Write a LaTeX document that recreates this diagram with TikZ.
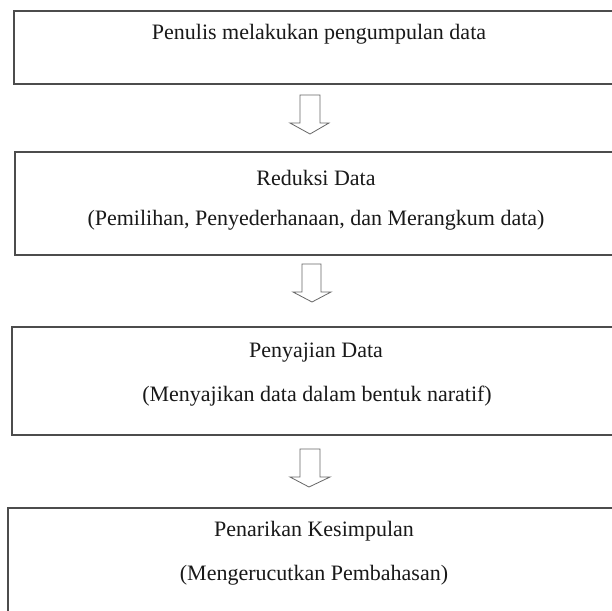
\documentclass[tikz,border=0pt]{standalone}
\usepackage{fontspec}
\setmainfont{Liberation Serif}
\begin{document}
\begin{tikzpicture}[x=1pt,y=-1pt,
  box/.style={draw=black!70,line width=1.6pt},
  arr/.style={draw=black!60,line width=0.8pt,fill=white,line join=miter},
  txt/.style={font=\fontsize{22}{26}\selectfont,inner sep=0pt,text=black!90}]
\useasboundingbox (0,0) rectangle (612,610);
\fill[white] (0,0) rectangle (612,610);
% boxes
\draw[box] (620,11) -- (14,11) -- (14,84) -- (620,84);
\draw[box] (620,152) -- (15,152) -- (15,255) -- (620,255);
\draw[box] (620,327) -- (12,327) -- (12,435) -- (620,435);
\draw[box] (620,508) -- (8,508) -- (8,620);
% texts
\node[txt] (t1) at (319,34) {Penulis melakukan pengumpulan data};
\node[txt] (t2a) at (316,178) {Reduksi Data};
\node[txt] (t2b) at (316,220) {(Pemilihan, Penyederhanaan, dan Merangkum data)};
\node[txt] (t3a) at (316,353) {Penyajian Data};
\node[txt] (t3b) at (317,396) {(Menyajikan data dalam bentuk naratif)};
\node[txt] (t4a) at (314,531) {Penarikan Kesimpulan};
\node[txt] (t4b) at (314,575) {(Mengerucutkan Pembahasan)};
% arrows
\draw[arr] (300,95) -- (320,95) -- (320,123) -- (329,123) -- (310,134) -- (290,123) -- (300,123) -- cycle;
\draw[arr] (302,264) -- (321,264) -- (321,292) -- (331,292) -- (312,302) -- (293,292) -- (302,292) -- cycle;
\draw[arr] (300,449) -- (320,449) -- (320,477) -- (330,477) -- (309,487) -- (290,477) -- (300,477) -- cycle;
\end{tikzpicture}
\end{document}
